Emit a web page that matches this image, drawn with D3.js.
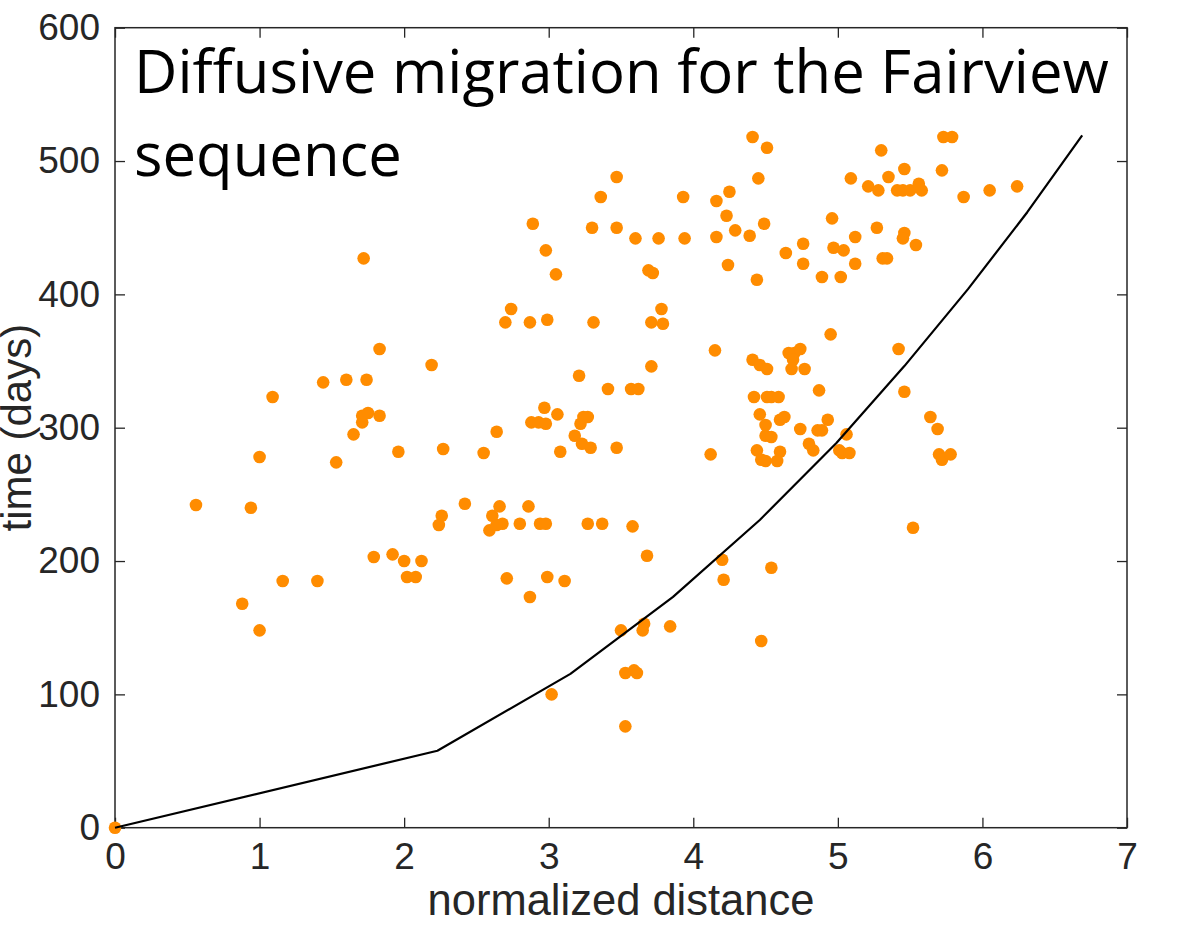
<!DOCTYPE html>
<html>
<head>
<meta charset="utf-8">
<script src="https://cdn.jsdelivr.net/npm/d3@7"></script>
<style>
  html, body { margin: 0; padding: 0; background: #fff; }
  svg { display: block; }
</style>
</head>
<body>
<svg id="chart" width="1192" height="928"></svg>
<script>
// Observed events: normalized distance from the injection point and time of occurrence (days)
const distance = [
  0.00,
  0.56, 0.88, 0.94, 1.00, 1.00, 1.09, 1.16, 1.40, 1.44, 1.53,
  1.60, 1.65, 1.71, 1.71, 1.72, 1.74, 1.75, 1.79, 1.83, 1.83,
  1.92, 1.96, 2.00, 2.02, 2.08, 2.12, 2.19, 2.24, 2.26, 2.27,
  3.47, 3.36, 3.93, 4.25, 4.16, 4.23, 4.29, 2.89, 3.30, 3.47,
  3.60, 3.76, 3.94, 4.16, 2.98, 3.05, 3.69, 3.72, 4.24, 2.74,
  2.70, 2.87, 2.99, 3.31, 3.78, 3.71, 3.79, 4.15, 3.21, 3.71,
  3.41, 3.57, 3.62, 2.97, 3.06, 2.88, 2.93, 2.98, 3.22, 3.24,
  3.27, 2.64, 3.18, 3.23, 3.29, 3.47, 2.55, 3.08, 4.12,
  2.42, 2.66, 2.86, 2.61, 2.59, 2.68, 2.64, 2.80, 2.94, 2.98,
  3.27, 3.37, 3.58, 3.68, 2.71, 2.99, 3.11, 2.87, 4.20, 4.21,
  3.50, 3.66, 3.65, 3.84, 3.53, 3.59, 3.61, 3.02, 3.53,
  4.41, 4.51, 4.45, 4.39, 4.49, 4.44, 4.64, 4.76, 4.76, 4.89,
  5.02, 4.96, 4.97, 5.04, 5.12, 5.12, 5.09, 5.30, 5.21, 5.28,
  5.35, 5.46, 5.41, 5.45, 5.50, 5.56, 5.58, 5.27, 5.46, 5.45,
  5.54, 5.31, 5.34, 5.73, 5.79, 5.72, 5.87, 6.05,
  6.24, 5.42, 5.46, 5.64, 5.69, 5.70, 5.72, 5.78,
  4.95, 4.41, 4.46, 4.51, 4.66, 4.70, 4.74, 4.69, 4.68, 4.77,
  4.87, 4.42, 4.51, 4.54, 4.59, 4.46, 4.50, 4.50, 4.54, 4.60,
  4.63, 4.74, 4.86, 4.89, 4.93, 5.06, 4.80, 4.83, 5.01, 5.03,
  5.08, 4.44, 4.47, 4.50, 4.60, 4.58,
  5.52, 4.54, 4.47
];
const time = [
  0,
  242, 168, 240, 148, 278, 323, 185, 185, 334, 274,
  336, 295, 304, 309, 427, 336, 311, 203, 309, 359,
  205, 282, 200, 188, 188, 200, 347, 227, 234, 284,
  488, 473, 473, 477, 470, 459, 448, 453, 450, 450,
  442, 442, 442, 443, 433, 415, 418, 416, 422, 389,
  379, 379, 381, 379, 389, 379, 378, 358, 339, 346,
  329, 329, 329, 315, 310, 304, 304, 303, 303, 308,
  308, 297, 294, 288, 285, 285, 281, 282, 280,
  243, 241, 241, 234, 223, 228, 227, 228, 228, 228,
  228, 228, 226, 204, 187, 188, 185, 173, 201, 186,
  148, 153, 148, 151, 116, 118, 116, 100, 76,
  518, 510, 487, 444, 453, 411, 431, 438, 423, 413,
  413, 457, 435, 433, 443, 423, 487, 508, 481, 478,
  488, 494, 478, 478, 478, 483, 478, 450, 446, 442,
  437, 427, 427, 518, 518, 493, 473, 478,
  481, 359, 327, 308, 299, 280, 276, 280,
  370, 351, 347, 344, 356, 356, 359, 351, 344, 344,
  328, 323, 323, 323, 323, 310, 302, 294, 293, 306,
  308, 299, 298, 298, 306, 295, 288, 283, 283, 281,
  281, 283, 276, 275, 282, 275,
  225, 195, 140
];

// Diffusion front: distance reached versus time
const curveDistance = [0, 2.23, 3.15, 3.86, 4.46, 4.99, 5.46, 5.90, 6.31, 6.69];
const curveTime     = [0, 57.7, 115.4, 173.1, 230.8, 288.5, 346.2, 403.9, 461.6, 519.3];

const xTicks = [0, 1, 2, 3, 4, 5, 6, 7];
const yTicks = [0, 100, 200, 300, 400, 500, 600];

const titleLines = ["Diffusive migration for the Fairview", "sequence"];
const xLabel = "normalized distance";
const yLabel = "time (days)";

const svg = d3.select("#chart");
const plotLeft = 115, plotRight = 1127, plotTop = 27.7, plotBottom = 827.7;
const axisColor = "#262626";
const tickFont = "'Liberation Sans', Arial, Helvetica, sans-serif";

const x = d3.scaleLinear().domain([0, 7]).range([plotLeft, plotRight]);
const y = d3.scaleLinear().domain([0, 600]).range([plotBottom, plotTop]);

// Inward ticks on all four sides of the box
function styleAxis(g) {
  g.select(".domain").remove();
  g.selectAll(".tick line").attr("stroke", axisColor).attr("stroke-width", 1.3);
  g.selectAll(".tick text")
    .attr("fill", axisColor)
    .style("font-family", tickFont)
    .style("font-size", "37px");
}

svg.append("g")
  .attr("transform", `translate(0,${plotBottom})`)
  .call(d3.axisBottom(x).tickValues(xTicks).tickFormat(d3.format("d")).tickSize(-10).tickPadding(15))
  .call(styleAxis);

svg.append("g")
  .attr("transform", `translate(0,${plotTop})`)
  .call(d3.axisTop(x).tickValues(xTicks).tickFormat("").tickSize(-10))
  .call(styleAxis);

svg.append("g")
  .attr("transform", `translate(${plotLeft},0)`)
  .call(d3.axisLeft(y).tickValues(yTicks).tickFormat(d3.format("d")).tickSize(-10).tickPadding(15))
  .call(styleAxis);

svg.append("g")
  .attr("transform", `translate(${plotRight},0)`)
  .call(d3.axisRight(y).tickValues(yTicks).tickFormat("").tickSize(-10))
  .call(styleAxis);

// Axes box
svg.append("rect")
  .attr("x", plotLeft).attr("y", plotTop)
  .attr("width", plotRight - plotLeft).attr("height", plotBottom - plotTop)
  .attr("fill", "none")
  .attr("stroke", axisColor)
  .attr("stroke-width", 1.5);

// Scatter of events
const points = distance.map((d, i) => ({ d, t: time[i] }));
svg.append("g")
  .selectAll("circle")
  .data(points)
  .join("circle")
  .attr("cx", p => x(p.d))
  .attr("cy", p => y(p.t))
  .attr("r", 6.3)
  .attr("fill", "#ff8c00");

// Diffusion curve
const curve = curveDistance.map((d, i) => ({ d, t: curveTime[i] }));
svg.append("path")
  .datum(curve)
  .attr("fill", "none")
  .attr("stroke", "#000")
  .attr("stroke-width", 2.2)
  .attr("stroke-linejoin", "round")
  .attr("d", d3.line().x(p => x(p.d)).y(p => y(p.t)));

// Axis labels
svg.append("text")
  .attr("x", (plotLeft + plotRight) / 2)
  .attr("y", 915)
  .attr("text-anchor", "middle")
  .attr("fill", axisColor)
  .style("font-family", tickFont)
  .style("font-size", "43.5px")
  .text(xLabel);

svg.append("text")
  .attr("transform", `translate(31,${(plotTop + plotBottom) / 2}) rotate(-90)`)
  .attr("text-anchor", "middle")
  .attr("fill", axisColor)
  .style("font-family", tickFont)
  .style("font-size", "42px")
  .text(yLabel);

// Title inside the axes
svg.append("g")
  .selectAll("text")
  .data(titleLines)
  .join("text")
  .attr("x", 134)
  .attr("y", (d, i) => 93 + i * 83)
  .attr("fill", "#000")
  .style("font-family", "'Open Sans', 'Noto Sans', sans-serif")
  .style("font-size", "59.8px")
  .text(d => d);
</script>
</body>
</html>
